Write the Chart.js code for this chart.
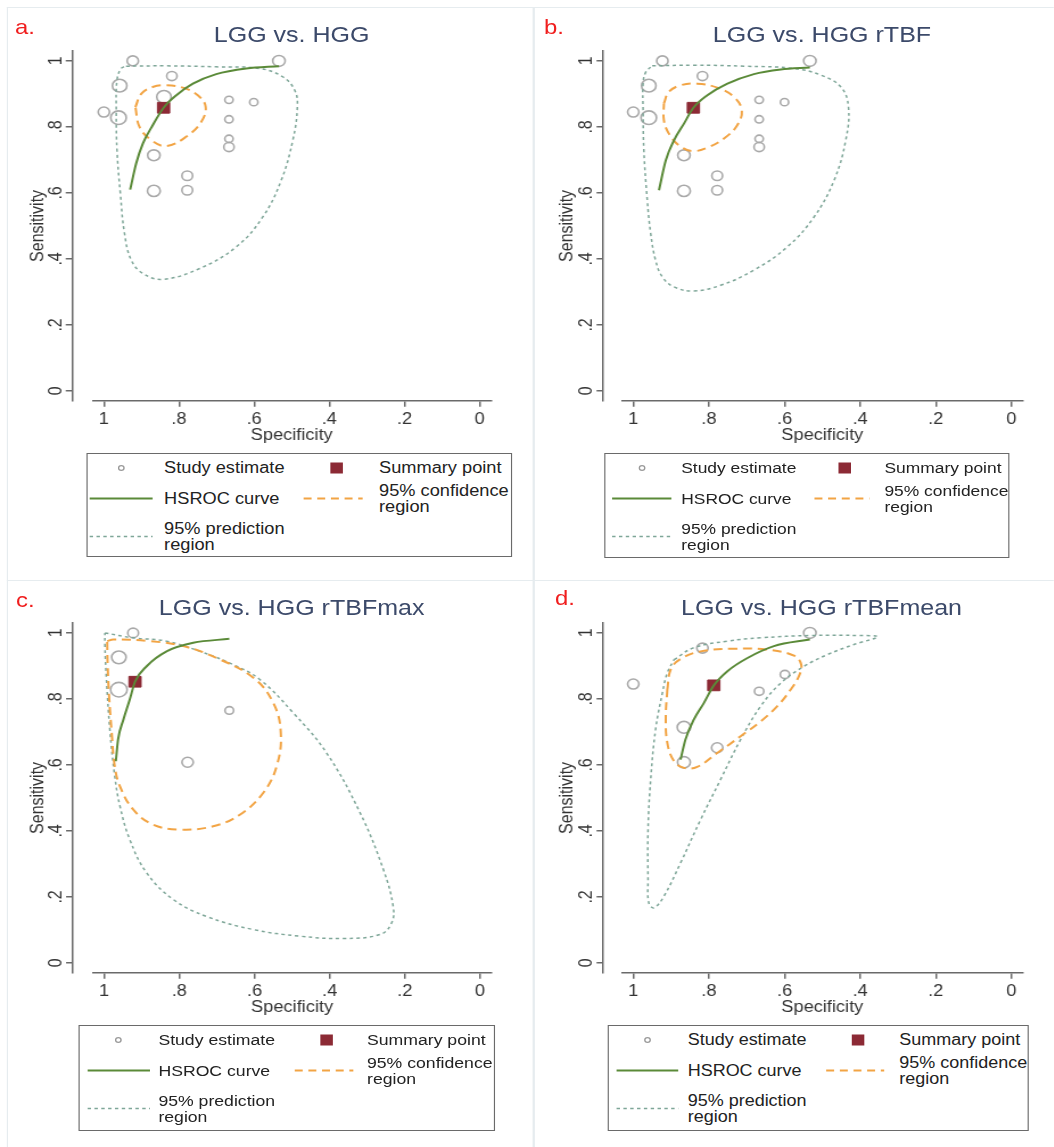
<!DOCTYPE html>
<html><head><meta charset="utf-8">
<script src="https://cdn.jsdelivr.net/npm/chart.js@4.4.1/dist/chart.umd.min.js"></script>
<style>
html,body{margin:0;padding:0;background:#fff;}
body{width:1054px;height:1147px;overflow:hidden;position:relative;}
#stage{position:absolute;left:0;top:0;width:926.2px;height:1147px;transform:scaleX(1.138);transform-origin:0 0;font-family:'Liberation Sans',Arial,Helvetica,sans-serif;}
.ptitle{position:absolute;width:420px;text-align:center;font-size:22px;color:#3c4a6a;line-height:26px;white-space:nowrap;}
.letter{position:absolute;font-size:21px;color:#f01e1e;line-height:24px;}
.legend{position:absolute;border:1.5px solid #6a6a6a;box-sizing:border-box;background:#fff;}
.lt{position:absolute;color:#222;white-space:nowrap;}
.sep{position:absolute;background:#e6ecef;}
canvas{position:absolute;}
</style></head><body><div id="stage"></div>
<script>
// ---------- shared text / ticks ----------
const tickValues = [0, 0.2, 0.4, 0.6, 0.8, 1];
const tickLabels = ['0', '.2', '.4', '.6', '.8', '1'];
const panelLetters = ['a.', 'b.', 'c.', 'd.'];
const panelTitles = ['LGG vs. HGG', 'LGG vs. HGG rTBF', 'LGG vs. HGG rTBFmax', 'LGG vs. HGG rTBFmean'];
const legendStudy = 'Study estimate';
const legendSummary = 'Summary point';
const legendHsroc = 'HSROC curve';
const legendConf = ['95% confidence', 'region'];
const legendPred = ['95% prediction', 'region'];

// ---------- panel a ----------
const studySpecA = [0.923, 0.534, 0.819, 0.958, 1.000, 0.961, 0.840, 0.667, 0.601, 0.667, 0.667, 0.667, 0.867, 0.778, 0.867, 0.778];
const studySensA = [1.000, 1.000, 0.954, 0.925, 0.845, 0.828, 0.891, 0.882, 0.875, 0.823, 0.764, 0.739, 0.714, 0.652, 0.606, 0.608];
const studyWeightA = [55, 60, 50, 70, 55, 75, 70, 40, 40, 40, 40, 50, 60, 52, 62, 52];
const summarySpecA = [0.841];
const summarySensA = [0.858];
const hsrocSpecA = [0.930, 0.914, 0.896, 0.870, 0.841, 0.807, 0.763, 0.701, 0.621, 0.534];
const hsrocSensA = [0.610, 0.689, 0.750, 0.805, 0.858, 0.896, 0.931, 0.960, 0.977, 0.984];
const confSpecA = [0.916, 0.900, 0.870, 0.834, 0.790, 0.750, 0.729, 0.741, 0.781, 0.834, 0.874, 0.905, 0.916];
const confSensA = [0.860, 0.901, 0.921, 0.926, 0.919, 0.896, 0.861, 0.815, 0.770, 0.742, 0.760, 0.800, 0.860];
const predSpecA = [0.941, 0.834, 0.701, 0.586, 0.524, 0.492, 0.485, 0.497, 0.528, 0.577, 0.648, 0.745, 0.843, 0.896, 0.927, 0.945, 0.956, 0.965, 0.967, 0.965, 0.954, 0.941];
const predSensA = [0.984, 0.985, 0.982, 0.977, 0.952, 0.911, 0.861, 0.760, 0.638, 0.527, 0.436, 0.371, 0.338, 0.356, 0.396, 0.477, 0.598, 0.729, 0.851, 0.942, 0.977, 0.984];

// ---------- panel b ----------
const studySpecB = [0.923, 0.533, 0.817, 0.959, 1.000, 0.959, 0.667, 0.600, 0.667, 0.667, 0.667, 0.866, 0.778, 0.866, 0.778];
const studySensB = [1.000, 1.000, 0.954, 0.925, 0.845, 0.828, 0.882, 0.875, 0.823, 0.764, 0.739, 0.714, 0.652, 0.606, 0.608];
const studyWeightB = [55, 60, 50, 70, 55, 75, 40, 40, 40, 40, 50, 60, 52, 62, 52];
const summarySpecB = [0.841];
const summarySensB = [0.858];
const hsrocSpecB = [0.932, 0.914, 0.892, 0.866, 0.841, 0.804, 0.751, 0.681, 0.610, 0.533];
const hsrocSensB = [0.608, 0.699, 0.760, 0.810, 0.858, 0.896, 0.931, 0.960, 0.974, 0.980];
const confSpecB = [0.919, 0.906, 0.875, 0.831, 0.778, 0.734, 0.713, 0.725, 0.760, 0.804, 0.844, 0.879, 0.906, 0.919, 0.919];
const confSensB = [0.871, 0.906, 0.926, 0.931, 0.919, 0.891, 0.851, 0.805, 0.765, 0.737, 0.727, 0.744, 0.780, 0.820, 0.871];
const predSpecB = [0.950, 0.840, 0.707, 0.575, 0.504, 0.451, 0.431, 0.438, 0.469, 0.522, 0.593, 0.681, 0.769, 0.840, 0.892, 0.923, 0.941, 0.954, 0.963, 0.972, 0.974, 0.974, 0.967, 0.950];
const predSensB = [0.985, 0.987, 0.984, 0.977, 0.957, 0.921, 0.861, 0.760, 0.638, 0.527, 0.436, 0.366, 0.320, 0.303, 0.315, 0.345, 0.396, 0.477, 0.578, 0.729, 0.851, 0.931, 0.966, 0.985];

// ---------- panel c ----------
const studySpecC = [0.923, 0.961, 0.961, 0.667, 0.778];
const studySensC = [1.000, 0.926, 0.828, 0.765, 0.608];
const studyWeightC = [52, 70, 80, 42, 55];
const summarySpecC = [0.918];
const summarySensC = [0.852];
const hsrocSpecC = [0.969, 0.963, 0.949, 0.932, 0.918, 0.887, 0.834, 0.763, 0.667];
const hsrocSensC = [0.611, 0.677, 0.737, 0.798, 0.852, 0.899, 0.944, 0.970, 0.982];
const confSpecC = [0.992, 0.976, 0.878, 0.790, 0.701, 0.603, 0.550, 0.530, 0.541, 0.577, 0.639, 0.710, 0.799, 0.870, 0.923, 0.958, 0.972, 0.980, 0.987, 0.991, 0.992];
const confSensC = [0.975, 0.980, 0.975, 0.960, 0.924, 0.864, 0.788, 0.697, 0.596, 0.515, 0.449, 0.414, 0.404, 0.419, 0.465, 0.535, 0.596, 0.697, 0.808, 0.909, 0.975];
const predSpecC = [0.998, 0.923, 0.834, 0.745, 0.657, 0.586, 0.497, 0.408, 0.319, 0.257, 0.231, 0.235, 0.266, 0.364, 0.479, 0.603, 0.728, 0.816, 0.887, 0.932, 0.958, 0.972, 0.985, 0.994, 0.998, 0.998];
const predSensC = [1.000, 0.985, 0.975, 0.944, 0.904, 0.859, 0.758, 0.636, 0.455, 0.283, 0.172, 0.121, 0.086, 0.074, 0.081, 0.101, 0.141, 0.192, 0.273, 0.374, 0.475, 0.566, 0.707, 0.859, 0.960, 1.000];

// ---------- panel d ----------
const studySpecD = [0.533, 0.817, 1.000, 0.599, 0.667, 0.866, 0.778, 0.866];
const studySensD = [1.000, 0.954, 0.845, 0.874, 0.823, 0.714, 0.652, 0.608];
const studyWeightD = [60, 55, 55, 45, 45, 65, 55, 62];
const summarySpecD = [0.787];
const summarySensD = [0.841];
const hsrocSpecD = [0.875, 0.862, 0.840, 0.813, 0.787, 0.751, 0.698, 0.628, 0.533];
const hsrocSensD = [0.616, 0.677, 0.737, 0.788, 0.841, 0.884, 0.924, 0.960, 0.980];
const confSpecD = [0.910, 0.901, 0.875, 0.822, 0.734, 0.645, 0.575, 0.556, 0.562, 0.584, 0.619, 0.663, 0.716, 0.778, 0.831, 0.866, 0.892, 0.910, 0.914, 0.910];
const confSensD = [0.828, 0.889, 0.921, 0.944, 0.952, 0.949, 0.931, 0.904, 0.869, 0.828, 0.778, 0.732, 0.687, 0.636, 0.594, 0.591, 0.611, 0.667, 0.747, 0.828];
const predSpecD = [0.892, 0.840, 0.751, 0.663, 0.531, 0.399, 0.354, 0.416, 0.487, 0.548, 0.610, 0.663, 0.716, 0.769, 0.822, 0.875, 0.919, 0.945, 0.959, 0.961, 0.961, 0.954, 0.941, 0.923, 0.910, 0.892];
const predSensD = [0.919, 0.955, 0.975, 0.985, 0.992, 0.992, 0.988, 0.965, 0.934, 0.899, 0.848, 0.778, 0.677, 0.556, 0.434, 0.303, 0.202, 0.167, 0.182, 0.253, 0.404, 0.556, 0.707, 0.818, 0.879, 0.919];

// ---------- layout (page geometry only) ----------
const FONT = "'Liberation Sans', Arial, Helvetica, sans-serif";
const layoutA = {caLeft: 81.75, caRight: 431.7, caTop: 50.8, caBottom: 400.6, axisX: 64.1, yTitle: 34,
  title: {cx: 256.3, cy: 35}, letter: {x: 13.2, cy: 27},
  legend: {left: 76.4, top: 453, w: 373.5, h: 104, font: 16, circleX: 29.6, text1X: 66.8, squareX: 218.8, text2X: 255.7, g0: 1.8, g1: 57.1, o0: 189.8, o1: 241.7}};
const layoutB = {caLeft: 546.2, caRight: 898.4, caTop: 50.8, caBottom: 400.6, axisX: 529.9, yTitle: 498.3,
  title: {cx: 722.3, cy: 35}, letter: {x: 478, cy: 27},
  legend: {left: 530.8, top: 453, w: 355.8, h: 105, font: 15.3, circleX: 32.2, text1X: 66.8, squareX: 210.3, text2X: 245.4, g0: 5.9, g1: 58, o0: 183.7, o1: 232}};
const layoutC = {caLeft: 81.75, caRight: 431.7, caTop: 623.4, caBottom: 973.2, axisX: 64.1, yTitle: 33.7,
  title: {cx: 256.3, cy: 608.3}, letter: {x: 14, cy: 600},
  legend: {left: 68.5, top: 1025, w: 366.4, h: 106, font: 15.5, circleX: 34, text1X: 69.7, squareX: 217, text2X: 253, g0: 7, g1: 61.8, o0: 189, o1: 240.5}};
const layoutD = {caLeft: 546.2, caRight: 898.4, caTop: 623.4, caBottom: 973.2, axisX: 529.9, yTitle: 498.3,
  title: {cx: 721.9, cy: 608}, letter: {x: 487.7, cy: 598},
  legend: {left: 533.6, top: 1025, w: 370.6, h: 106, font: 15.8, circleX: 34, text1X: 69.7, squareX: 219, text2X: 255.6, g0: 6.8, g1: 61, o0: 191, o1: 242}};

const COL = {axis: '#6a6a6a', text: '#333', study: '#a9a9a9', summary: '#8c2a35', hsroc: '#5a8a38', conf: '#f2a444', pred: '#7ea698'};

const stage = document.getElementById('stage');
const toXY = (xs, ys) => xs.map((x, i) => ({x: x, y: ys[i]}));

function addDiv(cls, css, text) {
  const d = document.createElement('div');
  d.className = cls;
  Object.assign(d.style, css);
  if (text !== undefined) d.textContent = text;
  stage.appendChild(d);
  return d;
}

// light panel separators
addDiv('sep', {left: '6.2px', top: '7px', width: '920px', height: '1.3px'});
addDiv('sep', {left: '6.2px', top: '7px', width: '1.3px', height: '1140px'});
addDiv('sep', {left: '468.4px', top: '7px', width: '1.3px', height: '1140px'});
addDiv('sep', {left: '6.2px', top: '580px', width: '920px', height: '1.3px'});

function makePanel(idx, L, d) {
  const left = L.yTitle - 11.6;
  const top = L.caTop - 20;
  const W = Math.round(L.caRight + 15 - left);
  const H = Math.round(L.caBottom + 44 - top);
  const padRight = W - (L.caRight - left);
  const xAxisH = H - (L.caBottom - top);
  const yW = L.axisX - (left + 2);
  const gapW = L.caLeft - L.axisX;

  const cv = document.createElement('canvas');
  cv.width = W; cv.height = H;
  cv.style.left = left + 'px'; cv.style.top = top + 'px';
  cv.style.width = W + 'px'; cv.style.height = H + 'px';
  stage.appendChild(cv);

  const tickOpts = {font: {family: FONT, size: 16}, color: COL.text, autoSkip: false,
    callback: (v, i) => tickLabels[i]};
  const gridOpts = {display: true, drawOnChartArea: false, drawTicks: true, tickLength: 6, color: COL.axis, lineWidth: 1.5};
  const borderOpts = {display: true, color: COL.axis, width: 1.5};
  const setTicks = s => { s.ticks = tickValues.map(v => ({value: v})); };

  new Chart(cv, {
    type: 'scatter',
    data: {
      datasets: [
        {label: legendHsroc, data: toXY(d.hsrocSpec, d.hsrocSens), showLine: true, borderColor: COL.hsroc, borderWidth: 2, pointRadius: 0, cubicInterpolationMode: 'monotone', order: 0},
        {label: legendSummary, data: toXY(d.summarySpec, d.summarySens), pointStyle: 'rect', pointRadius: 7.6, backgroundColor: COL.summary, borderColor: COL.summary, borderWidth: 1, order: 1},
        {label: legendConf.join(' '), data: toXY(d.confSpec, d.confSens), showLine: true, borderColor: COL.conf, borderDash: [8, 5], borderWidth: 2, pointRadius: 0, tension: 0.4, order: 2},
        {label: legendPred.join(' '), data: toXY(d.predSpec, d.predSens), showLine: true, borderColor: COL.pred, borderDash: [3, 3], borderWidth: 1.5, pointRadius: 0, tension: 0.4, order: 3},
        {label: legendStudy, data: toXY(d.studySpec, d.studySens), pointStyle: 'circle',
          pointRadius: ctx => d.studyWeight[ctx.dataIndex] / 11,
          backgroundColor: 'rgba(0,0,0,0)', borderColor: COL.study, borderWidth: 1.6, order: 4}
      ]
    },
    options: {
      responsive: false, animation: false, events: [],
      layout: {padding: {left: 2, top: 20, right: padRight, bottom: 0}},
      plugins: {legend: {display: false}, tooltip: {enabled: false}},
      scales: {
        x: {type: 'linear', reverse: true, min: -0.03, max: 1.03,
          afterBuildTicks: setTicks, afterFit: s => { s.height = xAxisH; },
          ticks: Object.assign({padding: 3, minRotation: 0, maxRotation: 0}, tickOpts),
          grid: gridOpts, border: borderOpts,
          title: {display: true, text: 'Specificity', font: {family: FONT, size: 16}, color: COL.text, padding: {top: 0, bottom: 0}}},
        y: {type: 'linear', position: 'left', weight: 1, min: -0.03, max: 1.03,
          afterBuildTicks: setTicks, afterFit: s => { s.width = yW; },
          ticks: Object.assign({padding: 1.5, minRotation: 90, maxRotation: 90, crossAlign: 'center'}, tickOpts),
          grid: gridOpts, border: borderOpts,
          title: {display: true, text: 'Sensitivity', font: {family: FONT, size: 16}, color: COL.text, padding: {top: 0, bottom: 0}}},
        ygap: {type: 'linear', position: 'left', weight: 0, display: true,
          grid: {display: false}, border: {display: false}, ticks: {display: false},
          afterFit: s => { s.width = gapW; }}
      }
    }
  });

  // title & letter
  addDiv('ptitle', {left: (L.title.cx - 210) + 'px', top: (L.title.cy - 13) + 'px'}, panelTitles[idx]);
  addDiv('letter', {left: L.letter.x + 'px', top: (L.letter.cy - 12) + 'px'}, panelLetters[idx]);

  // legend
  const G = L.legend;
  const box = addDiv('legend', {left: G.left + 'px', top: G.top + 'px', width: G.w + 'px', height: G.h + 'px'});
  const r1 = 14, r2 = 44.5, r3 = 82.5;
  const svgNS = 'http://www.w3.org/2000/svg';
  const svg = document.createElementNS(svgNS, 'svg');
  svg.setAttribute('width', G.w); svg.setAttribute('height', G.h);
  svg.style.position = 'absolute'; svg.style.left = '0'; svg.style.top = '0';
  const mk = (tag, attrs) => { const e = document.createElementNS(svgNS, tag); for (const k in attrs) e.setAttribute(k, attrs[k]); svg.appendChild(e); };
  mk('circle', {cx: G.circleX, cy: r1, r: 2.4, fill: 'none', stroke: '#9a9a9a', 'stroke-width': 1.2});
  mk('rect', {x: G.squareX - 5.5, y: r1 - 5.5, width: 11, height: 11, fill: COL.summary});
  mk('line', {x1: G.g0, x2: G.g1, y1: r2, y2: r2, stroke: COL.hsroc, 'stroke-width': 2});
  mk('line', {x1: G.o0, x2: G.o1, y1: r2, y2: r2, stroke: COL.conf, 'stroke-width': 2, 'stroke-dasharray': '7 5'});
  mk('line', {x1: G.g0, x2: G.g1, y1: r3, y2: r3, stroke: COL.pred, 'stroke-width': 1.5, 'stroke-dasharray': '3 3'});
  box.appendChild(svg);
  const lh = 16;
  const txt = (lines, x, cy) => {
    const t = document.createElement('div');
    t.className = 'lt';
    t.style.left = x + 'px';
    t.style.top = (cy - lines.length * lh / 2) + 'px';
    t.style.fontSize = G.font + 'px';
    t.style.lineHeight = lh + 'px';
    lines.forEach((s, i) => { if (i) t.appendChild(document.createElement('br')); t.appendChild(document.createTextNode(s)); });
    box.appendChild(t);
  };
  txt([legendStudy], G.text1X, r1);
  txt([legendSummary], G.text2X, r1);
  txt([legendHsroc], G.text1X, r2);
  txt(legendConf, G.text2X, r2);
  txt(legendPred, G.text1X, r3);
}

Chart.defaults.font.family = FONT;

makePanel(0, layoutA, {studySpec: studySpecA, studySens: studySensA, studyWeight: studyWeightA, summarySpec: summarySpecA, summarySens: summarySensA,
  hsrocSpec: hsrocSpecA, hsrocSens: hsrocSensA, confSpec: confSpecA, confSens: confSensA, predSpec: predSpecA, predSens: predSensA});
makePanel(1, layoutB, {studySpec: studySpecB, studySens: studySensB, studyWeight: studyWeightB, summarySpec: summarySpecB, summarySens: summarySensB,
  hsrocSpec: hsrocSpecB, hsrocSens: hsrocSensB, confSpec: confSpecB, confSens: confSensB, predSpec: predSpecB, predSens: predSensB});
makePanel(2, layoutC, {studySpec: studySpecC, studySens: studySensC, studyWeight: studyWeightC, summarySpec: summarySpecC, summarySens: summarySensC,
  hsrocSpec: hsrocSpecC, hsrocSens: hsrocSensC, confSpec: confSpecC, confSens: confSensC, predSpec: predSpecC, predSens: predSensC});
makePanel(3, layoutD, {studySpec: studySpecD, studySens: studySensD, studyWeight: studyWeightD, summarySpec: summarySpecD, summarySens: summarySensD,
  hsrocSpec: hsrocSpecD, hsrocSens: hsrocSensD, confSpec: confSpecD, confSens: confSensD, predSpec: predSpecD, predSens: predSensD});
</script></body></html>
